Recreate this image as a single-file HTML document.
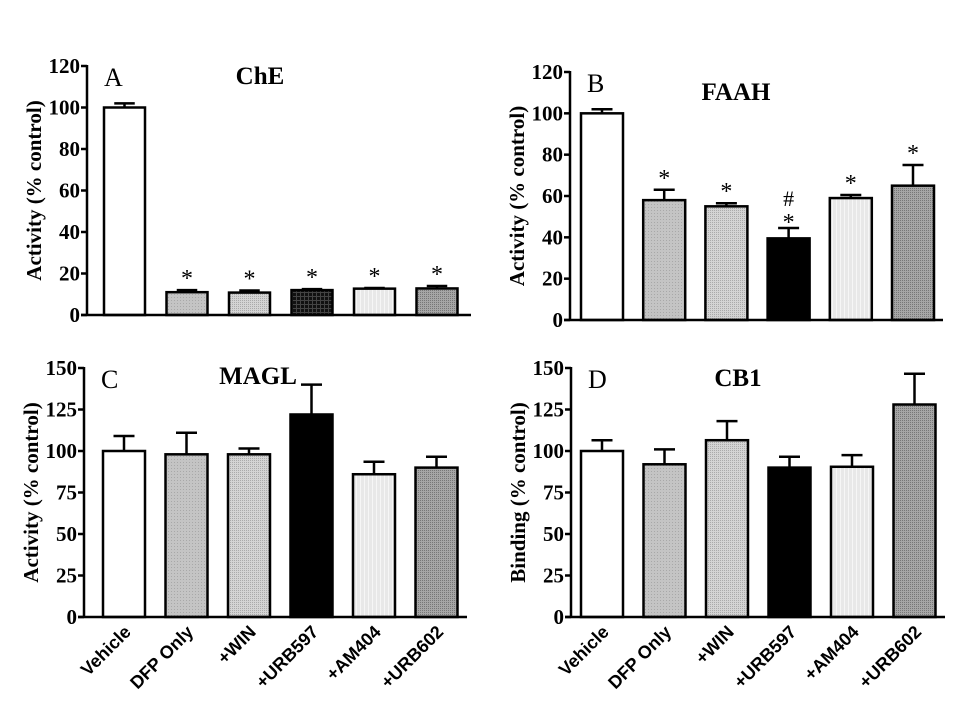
<!DOCTYPE html>
<html><head><meta charset="utf-8"><style>body{margin:0;background:#fff}svg{display:block}</style></head>
<body>
<svg id="fig" width="964" height="711" viewBox="0 0 964 711" xmlns="http://www.w3.org/2000/svg">
<defs>
<pattern id="p1" width="3" height="3" patternUnits="userSpaceOnUse"><rect width="3" height="3" fill="#c4c4c4"/><rect width="1" height="1" fill="#a8a8a8"/></pattern>
<pattern id="p2" width="2" height="2" patternUnits="userSpaceOnUse"><rect width="2" height="2" fill="#d4d4d4"/><rect width="1" height="1" fill="#aaa"/></pattern>
<pattern id="p3" width="4" height="4" patternUnits="userSpaceOnUse"><rect width="4" height="4" fill="#111"/><rect width="1" height="4" fill="#444"/><rect width="4" height="1" fill="#444"/></pattern>
<pattern id="p4" width="4" height="4" patternUnits="userSpaceOnUse"><rect width="4" height="4" fill="#e8e8e8"/><rect width="1" height="4" fill="#f6f6f6"/></pattern>
<pattern id="p5" width="2" height="2" patternUnits="userSpaceOnUse"><rect width="2" height="2" fill="#a6a6a6"/><rect width="1" height="1" fill="#777"/></pattern>
</defs>
</svg>
<script>
const categories = ["Vehicle","DFP Only","+WIN","+URB597","+AM404","+URB602"];
const cheValues = [100, 11, 10.8, 12, 12.7, 12.8];
const cheErrors = [2, 1, 1, 0.5, 0.3, 1.2];
const faahValues = [100, 58, 55, 39.5, 59, 65];
const faahErrors = [2, 5, 1.5, 5, 1.5, 10];
const maglValues = [100, 98, 98, 122, 86, 90];
const maglErrors = [9, 13, 3.5, 18, 7.5, 6.5];
const cb1Values = [100, 92, 106.5, 90, 90.5, 128];
const cb1Errors = [6.5, 9, 11.5, 6.5, 7, 18.5];
const cheTicks = [0,20,40,60,80,100,120];
const faahTicks = [0,20,40,60,80,100,120];
const maglTicks = [0,25,50,75,100,125,150];
const cb1Ticks = [0,25,50,75,100,125,150];
const cheMarks = ["","*","*","*","*","*"];
const faahMarks = ["","*","*","*","*","*"];
const faahHash = ["","","","#","",""];

const NS="http://www.w3.org/2000/svg";
const svg=document.getElementById('fig');
const fillsA=["#fff","url(#p1)","url(#p2)","url(#p3)","url(#p4)","url(#p5)"];
const fillsB=["#fff","url(#p1)","url(#p2)","#000","url(#p4)","url(#p5)"];
function mk(tag,attrs,parent){const e=document.createElementNS(NS,tag);for(const k in attrs)e.setAttribute(k,attrs[k]);(parent||svg).appendChild(e);return e;}

function panel(o){
  const g=mk('g',{});
  
  
  const ymax=o.ticks[o.ticks.length-1];
  const y=v=>o.y0-(v/ymax)*(o.y0-o.ytop);
  const bx=i=>o.bar0+i*o.step;
  const fills=o.fills;
  o.values.forEach((v,i)=>{
    const cx=bx(i)+o.bw/2;
    const et=y(v+o.errors[i]);
    const el=mk('line',{x1:cx,x2:cx,y1:y(v),y2:et,stroke:'#000','stroke-width':2.5},g);
    
    
    const cap=mk('line',{x1:cx-o.bw/4,x2:cx+o.bw/4,y1:et,y2:et,stroke:'#000','stroke-width':2.5},g);
    
    
    const r=mk('rect',{x:bx(i),y:y(v),width:o.bw,height:o.y0-y(v),fill:fills[i],stroke:'#000','stroke-width':2.5},g);
    
    
    if(o.marks&&o.marks[i]){
      const t=mk('text',{x:cx,y:et+(o.hash&&o.hash[i]?2:-4),'text-anchor':'middle','font-family':'Liberation Serif, serif','font-size':24},g);
      t.textContent=o.marks[i];
      
      
    }
    if(o.hash&&o.hash[i]){
      const t=mk('text',{x:cx,y:et-22,'text-anchor':'middle','font-family':'Liberation Serif, serif','font-size':22},g);
      t.textContent=o.hash[i];
      
      
    }
    if(o.xlabels){
      const lx=cx+8, ly=o.y0+16;
      const t=mk('text',{x:lx,y:ly,'text-anchor':'end','font-family':'Liberation Sans, sans-serif','font-weight':'bold','font-size':18,transform:`rotate(-45 ${lx} ${ly})`},g);
      t.textContent=categories[i];
      
      
    }
  });
  const ya=mk('line',{x1:o.ax,x2:o.ax,y1:o.ytop-1,y2:o.y0+1,stroke:'#000','stroke-width':2.5},g);
  
  
  const xa=mk('line',{x1:o.ax-6,x2:o.xend,y1:o.y0,y2:o.y0,stroke:'#000','stroke-width':2.5},g);
  
  
  o.ticks.forEach(t=>{
    const ty=y(t);
    const tl=mk('line',{x1:o.ax-6,x2:o.ax,y1:ty,y2:ty,stroke:'#000','stroke-width':2.5},g);
    
    
    const tx=mk('text',{x:o.ax-7,y:ty+7,'text-anchor':'end','font-family':'Liberation Serif, serif','font-weight':'bold','font-size':21},g);
    tx.textContent=t;
    
    
  });
  const my=(o.y0+o.ytop)/2, mx=o.ax-46;
  const yt=mk('text',{x:mx,y:my,'text-anchor':'middle','font-family':'Liberation Serif, serif','font-weight':'bold','font-size':21,transform:`rotate(-90 ${mx} ${my})`},g);
  yt.textContent=o.ytitle;
  
  
  const L=mk('text',{x:o.ax+17,y:o.ytop+20,'font-family':'Liberation Serif, serif','font-size':26},g);
  L.textContent=o.letter;
  
  
  const T=mk('text',{x:o.tx,y:o.ty,'text-anchor':'middle','font-family':'Liberation Serif, serif','font-weight':'bold','font-size':25},g);
  T.textContent=o.title;
  
  
}

panel({name:'panel-a-che',fills:fillsA,values:cheValues,errors:cheErrors,ticks:cheTicks,marks:cheMarks,ax:87,y0:315,ytop:66,bar0:104,step:62.5,bw:41,xend:471,ytitle:'Activity (% control)',letter:'A',title:'ChE',tx:260,ty:84});
panel({name:'panel-b-faah',fills:fillsB,values:faahValues,errors:faahErrors,ticks:faahTicks,marks:faahMarks,hash:faahHash,ax:570,y0:320,ytop:72,bar0:581,step:62.2,bw:42,xend:943,ytitle:'Activity (% control)',letter:'B',title:'FAAH',tx:736,ty:100});
panel({name:'panel-c-magl',fills:fillsB,values:maglValues,errors:maglErrors,ticks:maglTicks,xlabels:true,ax:84,y0:617,ytop:368,bar0:103,step:62.5,bw:42,xend:467,ytitle:'Activity (% control)',letter:'C',title:'MAGL',tx:258,ty:384});
panel({name:'panel-d-cb1',fills:fillsB,values:cb1Values,errors:cb1Errors,ticks:cb1Ticks,xlabels:true,ax:571,y0:617,ytop:368,bar0:581,step:62.5,bw:42,xend:945,ytitle:'Binding (% control)',letter:'D',title:'CB1',tx:738,ty:386});
</script>
</body></html>
